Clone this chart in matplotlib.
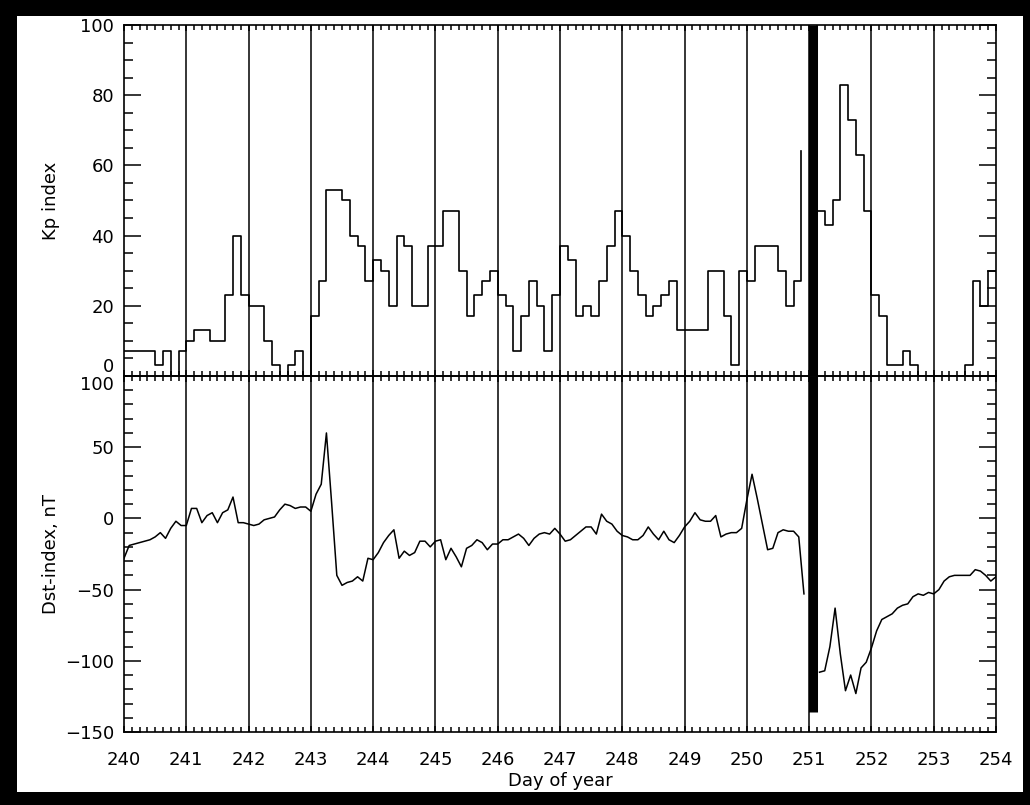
import numpy as np
import matplotlib.pyplot as plt
from matplotlib.patches import Rectangle
from matplotlib.ticker import MultipleLocator

nan = np.nan

day_start, day_end = 240, 254
days = list(range(day_start, day_end + 1))

# Kp index (x10), one value per 3 hours
kp_step = 1 / 8
kp = [
    7, 7, 7, 7, 3, 7, 0, 7,            # 240
    10, 13, 13, 10, 10, 23, 40, 23,    # 241
    20, 20, 10, 3, 0, 3, 7, 0,         # 242
    17, 27, 53, 53, 50, 40, 37, 27,    # 243
    33, 30, 20, 40, 37, 20, 20, 37,    # 244
    37, 47, 47, 30, 17, 23, 27, 30,    # 245
    23, 20, 7, 17, 27, 20, 7, 23,      # 246
    37, 33, 17, 20, 17, 27, 37, 47,    # 247
    40, 30, 23, 17, 20, 23, 27, 13,    # 248
    13, 13, 13, 30, 30, 17, 3, 30,     # 249
    27, 37, 37, 37, 30, 20, 27, 64,    # 250
    nan, 47, 43, 50, 83, 73, 63, 47,   # 251
    23, 17, 3, 3, 7, 3, 0, 0,          # 252
    0, 0, 0, 0, 3, 27, 20, 30,         # 253
]
kp_ticks = [0, 20, 40, 60, 80, 100]

# Dst index (nT), one value per 2 hours, last value at 254.0
dst_step = 1 / 12
dst = [
    -28, -19, -18, -17, -16, -15, -13, -10, -14, -7, -2, -5,          # 240
    -5, 7, 7, -3, 2, 4, -3, 4, 6, 15, -3, -3,                          # 241
    -4, -5, -4, -1, 0, 1, 6, 10, 9, 7, 8, 8,                           # 242
    5, 17, 24, 60, 11, -40, -47, -45, -44, -41, -44, -28,              # 243
    -29, -24, -17, -12, -8, -28, -23, -26, -24, -16, -16, -20,         # 244
    -16, -15, -29, -21, -27, -34, -21, -19, -15, -17, -22, -18,        # 245
    -18, -15, -15, -13, -11, -14, -19, -14, -11, -10, -11, -7,         # 246
    -11, -16, -15, -12, -9, -6, -6, -11, 3, -2, -4, -9,                # 247
    -12, -13, -15, -15, -12, -6, -11, -15, -9, -15, -17, -12,          # 248
    -6, -2, 4, -1, -2, -2, 2, -13, -11, -10, -10, -7,                  # 249
    13, 31, 14, -4, -22, -21, -10, -8, -9, -9, -13, -53,               # 250
    nan, nan, -108, -107, -90, -63, -95, -121, -110, -123, -105, -101, # 251
    -91, -79, -71, -69, -67, -63, -61, -60, -55, -53, -54, -52,        # 252
    -53, -50, -44, -41, -40, -40, -40, -40, -36, -37, -40, -44,        # 253
    -41,                                                               # 254
]
dst_ticks = [-150, -100, -50, 0, 50, 100]

# data gap marker
gap_day = 251.06
gap_dst_low = -136


def step_path(t, v):
    xs, ys = [], []
    for i, val in enumerate(v):
        if np.isnan(val):
            xs.append(nan)
            ys.append(nan)
            continue
        xs.append(t[i])
        ys.append(val)
        if i + 1 == len(v) or not np.isnan(v[i + 1]):
            xs.append(t[i + 1])
            ys.append(val)
    return xs, ys


plt.rcParams['font.family'] = 'DejaVu Sans'
plt.rcParams['font.size'] = 13

fig = plt.figure(figsize=(10.30, 8.05), dpi=100)
fig.patch.set_facecolor('black')
fig.add_artist(Rectangle((17 / 1030, 13 / 805), 1006 / 1030, 776 / 805,
                         transform=fig.transFigure, facecolor='white',
                         edgecolor='none', zorder=-1))

left, width = 124 / 1030, 872 / 1030
ax1 = fig.add_axes([left, 1 - 376 / 805, width, 351 / 805])
ax2 = fig.add_axes([left, 1 - 732 / 805, width, 356 / 805])

for ax in (ax1, ax2):
    ax.set_xlim(day_start, day_end)
    ax.set_xticks(days)
    ax.xaxis.set_minor_locator(MultipleLocator(kp_step))
    ax.tick_params(which='both', direction='in', top=True, right=True,
                   width=1.1, colors='black')
    ax.tick_params(axis='x', which='major', length=4, pad=14)
    ax.tick_params(axis='x', which='minor', length=3.6)
    ax.tick_params(axis='y', which='major', length=12, pad=7)
    ax.tick_params(axis='y', which='minor', length=6.5)
    for s in ax.spines.values():
        s.set_linewidth(1.2)
    for d in days[1:-1]:
        ax.axvline(d, color='black', lw=1.1, zorder=1)
    ax.patch.set_alpha(0)
    ax.yaxis.set_label_coords(-0.073, 0.5)

# Kp panel
t_kp = day_start + np.arange(len(kp) + 1) * kp_step
xs, ys = step_path(t_kp, kp)
ax1.plot(xs, ys, color='black', lw=1.2, zorder=3)
ax1.set_ylim(0, 100)
ax1.set_yticks(kp_ticks)
ax1.yaxis.set_minor_locator(MultipleLocator(5))
ax1.set_ylabel('Kp index')
ax1.tick_params(axis='x', labelbottom=False)
ax1.axvline(gap_day, color='black', lw=6.5, solid_capstyle='butt', zorder=5)
ax1.yaxis.get_major_ticks()[0].label1.set_verticalalignment('bottom')

# Dst panel
t_dst = day_start + np.arange(len(dst)) * dst_step
ax2.plot(t_dst, dst, color='black', lw=1.1, zorder=3)
ax2.set_ylim(-150, 100)
ax2.set_yticks(dst_ticks)
ax2.yaxis.set_minor_locator(MultipleLocator(10))
ax2.set_ylabel('Dst-index, nT')
ax2.set_xlabel('Day of year', labelpad=2)
ax2.vlines(gap_day, gap_dst_low, 100, color='black', lw=6.5, zorder=5)
ax2.yaxis.get_major_ticks()[-1].label1.set_verticalalignment('top')

fig.savefig('out.png', dpi=100, facecolor=fig.get_facecolor())
